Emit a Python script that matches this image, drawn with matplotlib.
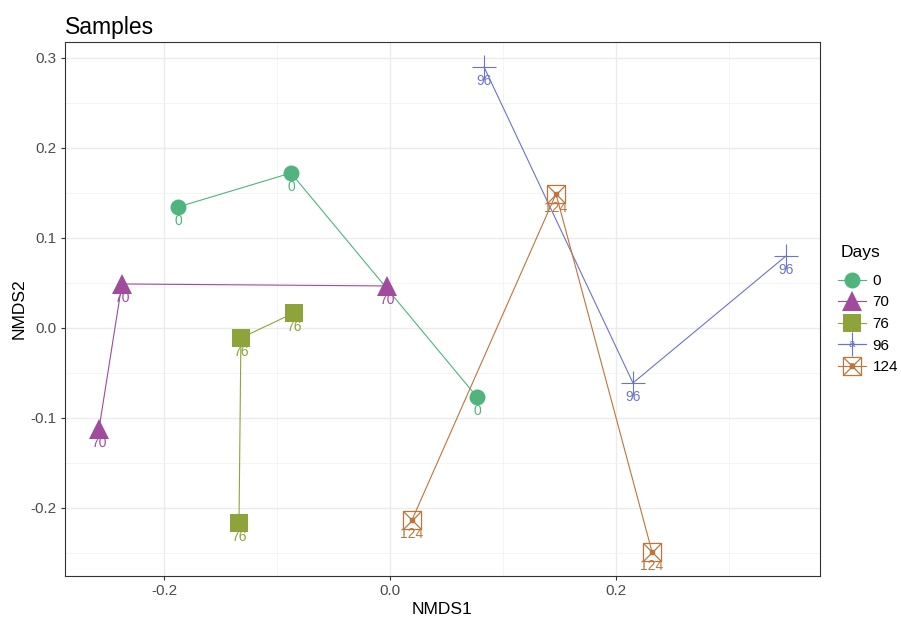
import matplotlib
matplotlib.use('Agg')
import matplotlib.pyplot as plt
from matplotlib.lines import Line2D
from matplotlib.text import Text
from matplotlib.path import Path
from matplotlib.legend_handler import HandlerBase

plt.rcParams['font.family'] = ['Liberation Sans', 'DejaVu Sans']

# NMDS site scores grouped by sampling day
days = ["0", "70", "76", "96", "124"]
nmds1 = {
    "0": [-0.1876, -0.0876, 0.0770],
    "70": [-0.2575, -0.2372, -0.0027],
    "76": [-0.1336, -0.1319, -0.0850],
    "96": [0.0832, 0.2150, 0.3504],
    "124": [0.0195, 0.1469, 0.2319],
}
nmds2 = {
    "0": [0.1344, 0.1722, -0.0767],
    "70": [-0.1122, 0.0489, 0.0467],
    "76": [-0.2167, -0.0111, 0.0167],
    "96": [0.2900, -0.0611, 0.0800],
    "124": [-0.2133, 0.1489, -0.2489],
}

colors = {"0": "#4FB57C", "70": "#A04B9B", "76": "#8FA33B",
          "96": "#6B74CD", "124": "#C0743A"}

# square with both diagonals (ggplot shape 7)
box_x = Path([(-1, -1), (1, -1), (1, 1), (-1, 1), (-1, -1), (1, 1), (-1, 1), (1, -1)],
             [Path.MOVETO, Path.LINETO, Path.LINETO, Path.LINETO, Path.LINETO,
              Path.LINETO, Path.MOVETO, Path.LINETO])

styles = {
    "0": dict(marker="o", ms=11.5, mew=0),
    "70": dict(marker="^", ms=15, mew=0),
    "76": dict(marker="s", ms=12.5, mew=0),
    "96": dict(marker="+", ms=17, mew=0.8),
    "124": dict(marker=box_x, ms=13, mew=0.9, mfc="none"),
}


class Key:
    def __init__(self, day):
        self.day = day


class KeyHandler(HandlerBase):
    def create_artists(self, legend, orig_handle, xdescent, ydescent,
                       width, height, fontsize, trans):
        d = orig_handle.day
        c = colors[d]
        cx = width / 2 - xdescent
        cy = height / 2 - ydescent
        ln = Line2D([-xdescent - 2, width - xdescent + 2], [cy, cy], color=c,
                    lw=0.8, transform=trans)
        st = dict(styles[d])
        st.setdefault("mfc", c)
        pt = Line2D([cx], [cy], color=c, mec=c, linestyle="none",
                    transform=trans, **st)
        arts = [ln, pt]
        if d == "124":
            arts.append(Line2D([cx], [cy], marker="s", ms=2.5, color=c,
                               transform=trans))
        arts.append(Text(cx, cy, "a", color=c, fontsize=8, ha="center",
                         va="center", transform=trans))
        return arts


fig, ax = plt.subplots(figsize=(9.01, 6.21), dpi=100)
fig.subplots_adjust(left=0.0721, right=0.9101, top=0.9324, bottom=0.0725)

for d in days:
    xs = nmds1[d]
    ys = nmds2[d]
    order = sorted(range(len(xs)), key=lambda i: xs[i])
    c = colors[d]
    ax.plot([xs[i] for i in order], [ys[i] for i in order], color=c, lw=0.8, zorder=3)
    st = dict(styles[d])
    st.setdefault("mfc", c)
    ax.plot(xs, ys, linestyle="none", color=c, mec=c, zorder=4, **st)
    if d == "124":
        ax.plot(xs, ys, linestyle="none", marker="s", ms=2.5, color=c, zorder=4)
    for x, y in zip(xs, ys):
        ax.annotate(d, (x, y), xytext=(0, -10.3), textcoords="offset points",
                    ha="center", va="center", color=c, fontsize=10, zorder=5)

ax.set_xlim(-0.2876, 0.3805)
ax.set_ylim(-0.2756, 0.3178)
ax.set_xticks([-0.2, 0.0, 0.2])
ax.set_xticklabels(["-0.2", "0.0", "0.2"])
ax.set_yticks([-0.2, -0.1, 0.0, 0.1, 0.2, 0.3])
ax.set_yticklabels(["-0.2", "-0.1", "0.0", "0.1", "0.2", "0.3"])
ax.set_xticks([-0.1, 0.1, 0.3], minor=True)
ax.set_yticks([-0.25, -0.15, -0.05, 0.05, 0.15, 0.25], minor=True)
ax.grid(which="major", color="#EBEBEB", lw=1.0, zorder=0)
ax.grid(which="minor", color="#F2F2F2", lw=0.6, zorder=0)
ax.set_axisbelow(True)
ax.tick_params(which="major", length=3, width=0.8, color="#333333",
               labelsize=11, labelcolor="#4D4D4D", pad=3)
ax.tick_params(which="minor", length=0)
for s in ax.spines.values():
    s.set_color("#333333")
    s.set_linewidth(0.8)

ax.set_xlabel("NMDS1", fontsize=12.5, labelpad=3)
ax.set_ylabel("NMDS2", fontsize=12.5, labelpad=3)
ax.set_title("Samples", loc="left", fontsize=16.5, pad=6)

fig.legend([Key(d) for d in days], days, handler_map={Key: KeyHandler()},
           loc="center left", bbox_to_anchor=(0.9329, 0.4799),
           frameon=False, fontsize=11, handlelength=1.5, handleheight=1.2,
           labelspacing=0.37, handletextpad=0.6, borderpad=0, borderaxespad=0)
fig.text(841 / 901, 1 - 252 / 621, "Days", fontsize=12.5, ha="left", va="center")

fig.savefig("out.png", dpi=100)
